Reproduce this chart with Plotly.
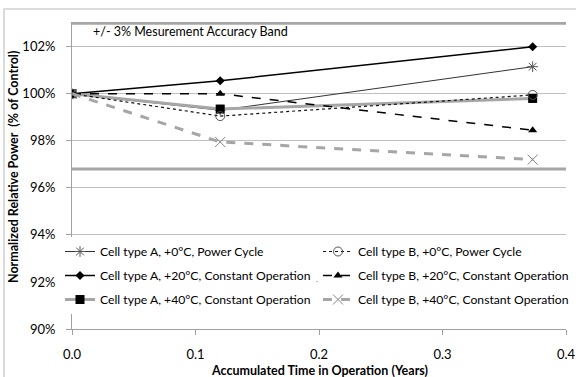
import plotly.graph_objects as go

# Data
time_years = [0.0, 0.12, 0.373]
a_0c_power = [100.0, 99.3, 101.15]
a_20c_const = [100.0, 100.55, 102.0]
a_40c_const = [100.0, 99.35, 99.8]
b_0c_power = [100.0, 99.05, 99.95]
b_20c_const = [100.0, 100.0, 98.45]
b_40c_const = [100.0, 97.95, 97.2]

band_x = [0.0, 0.4]
band_upper = [103.0, 103.0]
band_lower = [96.8, 96.8]

y_ticks = [90, 92, 94, 96, 98, 100, 102]
y_tick_labels = ["90%", "92%", "94%", "96%", "98%", "100%", "102%"]
x_ticks = [0.0, 0.1, 0.2, 0.3, 0.4]
x_tick_labels = ["0.0", "0.1", "0.2", "0.3", "0.4"]

FONT = "Lato"
GRAY = "#a6a6a6"

fig = go.Figure()

# accuracy band lines
for yb in (band_upper, band_lower):
    fig.add_trace(go.Scatter(x=band_x, y=yb, mode="lines", showlegend=False,
                             line=dict(color=GRAY, width=3), hoverinfo="skip"))

series = [
    ("Cell type A, +0°C, Power Cycle", a_0c_power, "legend",
     dict(color="#333333", width=1, dash="solid"),
     dict(symbol="asterisk-open", size=9, color="#555555", line=dict(width=1, color="#555555"))),
    ("Cell type A, +20°C, Constant Operation", a_20c_const, "legend",
     dict(color="#000000", width=1.5, dash="solid"),
     dict(symbol="diamond", size=7, color="#000000")),
    ("Cell type A, +40°C, Constant Operation", a_40c_const, "legend",
     dict(color=GRAY, width=3, dash="solid"),
     dict(symbol="square", size=9, color="#000000")),
    ("Cell type B, +0°C, Power Cycle", b_0c_power, "legend2",
     dict(color="#111111", width=1.2, dash="dot"),
     dict(symbol="circle-open", size=9, color="#555555", line=dict(width=1, color="#555555"))),
    ("Cell type B, +20°C, Constant Operation", b_20c_const, "legend2",
     dict(color="#000000", width=1.5, dash="dash"),
     dict(symbol="triangle-up", size=8, color="#000000")),
    ("Cell type B, +40°C, Constant Operation", b_40c_const, "legend2",
     dict(color=GRAY, width=3, dash="dash"),
     dict(symbol="x-thin-open", size=10, color="#808080", line=dict(width=1, color="#808080"))),
]

for i, (name, vals, leg, ln, mk) in enumerate(series):
    fig.add_trace(go.Scatter(x=time_years, y=vals, mode="lines+markers", name=name,
                             legend=leg, legendgroup=f"g{i}", line=ln, marker=mk))

fig.add_annotation(text="+/- 3% Mesurement Accuracy Band", xref="paper", yref="paper",
                   x=(91 - 72) / 494, y=(329 - 31) / 307, xanchor="left", yanchor="middle",
                   showarrow=False, font=dict(family=FONT, size=12.5, color="#000000"))

fig.add_annotation(text="<b>Normalized Relative Power  (% of Control)</b>", xref="paper", yref="paper",
                   x=(13 - 72) / 494, y=(329 - 167) / 307, xanchor="center", yanchor="middle",
                   textangle=-90, showarrow=False, font=dict(family=FONT, size=12.5, color="#000000"))

fig.add_annotation(text="<b>Accumulated Time in Operation (Years)</b>", xref="paper", yref="paper",
                   x=(319 - 72) / 494, y=(329 - 370) / 307, xanchor="center", yanchor="middle",
                   showarrow=False, font=dict(family=FONT, size=12.5, color="#000000"))

# chart frame (left and top edges visible, right/bottom beyond the picture)
fig.add_shape(type="rect", xref="paper", yref="paper",
              x0=(4 - 72) / 494, x1=(595 - 72) / 494, y0=(329 - 395) / 307, y1=(329 - 9) / 307,
              line=dict(color="#d0d0d0", width=1.5), fillcolor="rgba(0,0,0,0)", layer="below")

leg_common = dict(orientation="v", yanchor="top", xanchor="left", tracegroupgap=5,
                  bgcolor="white", font=dict(family=FONT, size=12.2, color="#000000"),
                  itemwidth=30)

fig.update_layout(
    width=576, height=377,
    margin=dict(l=72, r=10, t=22, b=48, autoexpand=False),
    paper_bgcolor="white", plot_bgcolor="white",
    font=dict(family=FONT, size=13, color="#000000"),
    showlegend=True,
    legend=dict(x=(60 - 72) / 494, y=(329 - 237) / 307, **leg_common),
    legend2=dict(x=(318 - 72) / 494, y=(329 - 237) / 307, **leg_common),
    xaxis=dict(range=[0, 0.4], tickvals=x_ticks, ticktext=x_tick_labels, showgrid=False,
               showline=True, linecolor="#a0a0a0", linewidth=1, ticks="outside",
               ticklen=5, tickcolor="#a0a0a0", zeroline=False, ticklabelstandoff=8,
               tickfont=dict(family=FONT, size=13)),
    yaxis=dict(range=[90, 103.05], tickvals=y_ticks, ticktext=y_tick_labels, showgrid=True,
               gridcolor="#c0c0c0", gridwidth=1, showline=True, linecolor="#a0a0a0",
               linewidth=1, ticks="outside", ticklen=5, tickcolor="#a0a0a0",
               zeroline=False, ticklabelstandoff=8, tickfont=dict(family=FONT, size=13)),
)

fig.write_html("out.html")
